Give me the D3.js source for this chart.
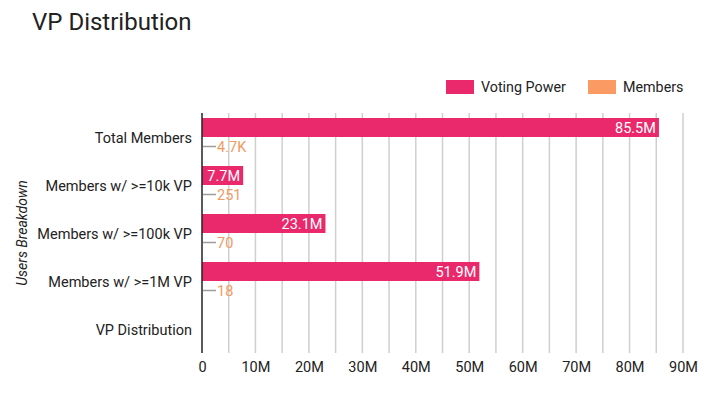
<!DOCTYPE html>
<html><head><meta charset="utf-8">
<script src="https://cdn.jsdelivr.net/npm/d3@7"></script>
<style>body{margin:0;background:#fff;font-family:Roboto,sans-serif}</style>
</head><body><svg id="c" width="720" height="395"></svg>
<script>
const categories = ["Total Members","Members w/ >=10k VP","Members w/ >=100k VP","Members w/ >=1M VP","VP Distribution"];
const votingPower = [85.5e6, 7.7e6, 23.1e6, 51.9e6, null];
const votingPowerLabels = ["85.5M","7.7M","23.1M","51.9M",null];
const members = [4700, 251, 70, 18, null];
const membersLabels = ["4.7K","251","70","18",null];
const xTicks = [0,10e6,20e6,30e6,40e6,50e6,60e6,70e6,80e6,90e6];
const xTickLabels = ["0","10M","20M","30M","40M","50M","60M","70M","80M","90M"];
const seriesNames = ["Voting Power","Members"];
const colors = ["#e9296b","#fb9a62"];

const svg = d3.select("#c");
const m = {l:202, r:683, t:113, b:353};
const x = d3.scaleLinear().domain([0,90e6]).range([m.l,m.r]);
const y = d3.scaleBand().domain(categories).range([m.t,m.b]).paddingInner(0).paddingOuter(0);
const barH = 19;

svg.append("text").attr("x",32).attr("y",30).attr("font-size",24).attr("fill","#222").text("VP Distribution");

// grid every 5M
const grid = d3.range(5e6, 90e6+1, 5e6);
svg.append("g").selectAll("line").data(grid).join("line")
  .attr("x1",d=>x(d)).attr("x2",d=>x(d)).attr("y1",m.t).attr("y2",m.b)
  .attr("stroke","#cfcfcf").attr("stroke-width",1.5);

// x axis labels
const xa = svg.append("g").attr("transform",`translate(0,${m.b})`)
  .call(d3.axisBottom(x).tickValues(xTicks).tickFormat((d,i)=>xTickLabels[i]).tickSize(0).tickPadding(9));
xa.select(".domain").remove();
xa.selectAll("text").attr("font-size",14.5).attr("fill","#222").attr("font-family","Roboto");

// y axis labels
const ya = svg.append("g").attr("transform",`translate(${m.l},1.5)`)
  .call(d3.axisLeft(y).tickSize(0).tickPadding(10));
ya.select(".domain").remove();
ya.selectAll("text").attr("font-size",14.5).attr("fill","#222").attr("font-family","Roboto");

// bars
const idx = d3.range(categories.length);
svg.append("g").selectAll("rect").data(idx.filter(i=>votingPower[i]!=null)).join("rect")
  .attr("x",x(0)).attr("y",i=>y(categories[i])+y.bandwidth()/2-barH)
  .attr("width",i=>x(votingPower[i])-x(0)).attr("height",barH).attr("fill",colors[0]);
svg.append("g").selectAll("text").data(idx.filter(i=>votingPower[i]!=null)).join("text")
  .attr("x",i=>x(votingPower[i])-3).attr("y",i=>y(categories[i])+y.bandwidth()/2-barH/2+5)
  .attr("text-anchor","end").attr("font-size",14.5).attr("fill","#fff").text(i=>votingPowerLabels[i]);

// members bars (tiny)
const mi = idx.filter(i=>members[i]!=null);
svg.append("g").selectAll("rect").data(mi).join("rect")
  .attr("x",x(0)).attr("y",i=>y(categories[i])+y.bandwidth()/2)
  .attr("width",i=>Math.max(0,x(members[i])-x(0))).attr("height",barH).attr("fill",colors[1]);
svg.append("g").selectAll("line").data(mi).join("line")
  .attr("x1",i=>x(members[i])+1).attr("x2",i=>x(members[i])+14)
  .attr("y1",i=>y(categories[i])+y.bandwidth()/2+barH/2).attr("y2",i=>y(categories[i])+y.bandwidth()/2+barH/2)
  .attr("stroke","#9e9e9e").attr("stroke-width",1.5);
svg.append("g").selectAll("text").data(mi).join("text")
  .attr("x",i=>x(members[i])+15).attr("y",i=>y(categories[i])+y.bandwidth()/2+barH/2+5)
  .attr("font-size",14.5).attr("fill","#ef9a63").text(i=>membersLabels[i]);

// zero axis line
svg.append("line").attr("x1",x(0)).attr("x2",x(0)).attr("y1",m.t).attr("y2",m.b).attr("stroke","#222").attr("stroke-width",1.5);

// y title
svg.append("text").attr("transform",`translate(27,${(m.t+m.b)/2}) rotate(-90)`)
  .attr("text-anchor","middle").attr("font-size",14).attr("font-style","italic").attr("fill","#222").text("Users Breakdown");

// legend
const lg = [{x:446},{x:588}];
seriesNames.forEach((n,i)=>{
  svg.append("rect").attr("x",lg[i].x).attr("y",80).attr("width",28).attr("height",14).attr("fill",colors[i]);
  svg.append("text").attr("x",lg[i].x+35).attr("y",92).attr("font-size",14.3).attr("fill","#222").text(n);
});
</script></body></html>
